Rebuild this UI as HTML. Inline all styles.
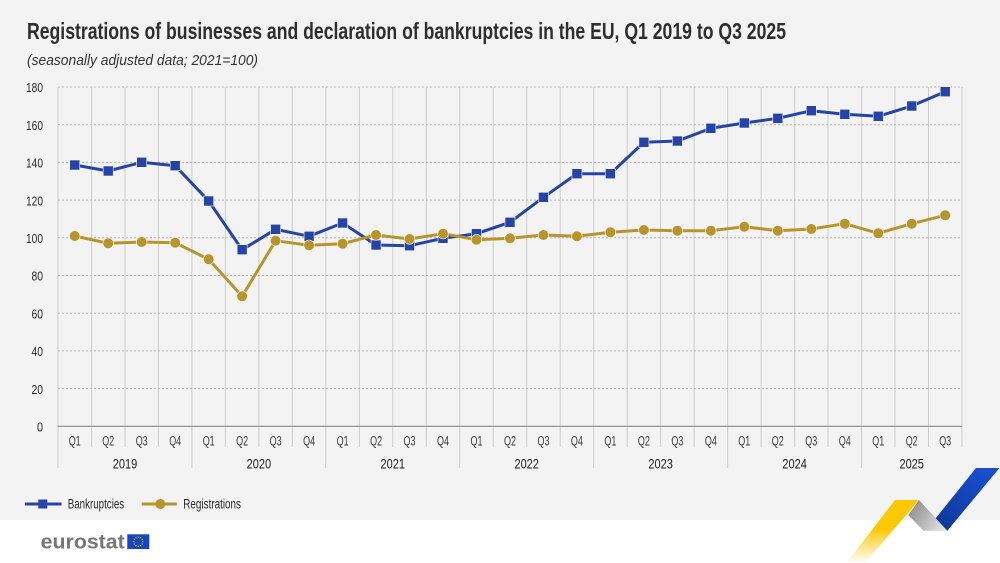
<!DOCTYPE html>
<html>
<head>
<meta charset="utf-8">
<style>
html,body{margin:0;padding:0;background:#fff;}
svg{display:block;}
text{font-family:"Liberation Sans Narrow","Liberation Sans",sans-serif;}
</style>
</head>
<body>
<svg width="1000" height="563" viewBox="0 0 1000 563" xmlns="http://www.w3.org/2000/svg">
<defs>
  <linearGradient id="gy" x1="0" y1="500" x2="0" y2="563" gradientUnits="userSpaceOnUse">
    <stop offset="0" stop-color="#fcc800"/>
    <stop offset="0.45" stop-color="#fcc800"/>
    <stop offset="1" stop-color="#fcc800" stop-opacity="0"/>
  </linearGradient>
  <linearGradient id="gg" x1="910" y1="505" x2="945" y2="531" gradientUnits="userSpaceOnUse">
    <stop offset="0" stop-color="#8c8c8c"/>
    <stop offset="1" stop-color="#e6e6e6"/>
  </linearGradient>
  <linearGradient id="gb" x1="990" y1="468" x2="940" y2="528" gradientUnits="userSpaceOnUse">
    <stop offset="0" stop-color="#1a4fd2"/>
    <stop offset="1" stop-color="#0e3899"/>
  </linearGradient>
</defs>

<rect x="0" y="0" width="1000" height="520" fill="#f3f3f3"/>
<rect x="0" y="520" width="1000" height="43" fill="#ffffff"/>

<!-- Title -->
<text x="27" y="39" font-size="23" font-weight="bold" fill="#2e2e2e" textLength="759" lengthAdjust="spacingAndGlyphs">Registrations of businesses and declaration of bankruptcies in the EU, Q1 2019 to Q3 2025</text>
<text x="27" y="65" font-size="14.5" font-style="italic" fill="#333" textLength="231" lengthAdjust="spacingAndGlyphs">(seasonally adjusted data; 2021=100)</text>

<!-- vertical gridlines -->
<g stroke="#cdcdcd" stroke-width="1">
  <line x1="58" y1="87" x2="58" y2="426"/>
  <line x1="91.5" y1="87" x2="91.5" y2="447"/>
  <line x1="125" y1="87" x2="125" y2="447"/>
  <line x1="158.4" y1="87" x2="158.4" y2="447"/>
  <line x1="191.9" y1="87" x2="191.9" y2="426"/>
  <line x1="225.4" y1="87" x2="225.4" y2="447"/>
  <line x1="258.9" y1="87" x2="258.9" y2="447"/>
  <line x1="292.4" y1="87" x2="292.4" y2="447"/>
  <line x1="325.8" y1="87" x2="325.8" y2="426"/>
  <line x1="359.3" y1="87" x2="359.3" y2="447"/>
  <line x1="392.8" y1="87" x2="392.8" y2="447"/>
  <line x1="426.3" y1="87" x2="426.3" y2="447"/>
  <line x1="459.8" y1="87" x2="459.8" y2="426"/>
  <line x1="493.2" y1="87" x2="493.2" y2="447"/>
  <line x1="526.7" y1="87" x2="526.7" y2="447"/>
  <line x1="560.2" y1="87" x2="560.2" y2="447"/>
  <line x1="593.7" y1="87" x2="593.7" y2="426"/>
  <line x1="627.2" y1="87" x2="627.2" y2="447"/>
  <line x1="660.6" y1="87" x2="660.6" y2="447"/>
  <line x1="694.1" y1="87" x2="694.1" y2="447"/>
  <line x1="727.6" y1="87" x2="727.6" y2="426"/>
  <line x1="761.1" y1="87" x2="761.1" y2="447"/>
  <line x1="794.6" y1="87" x2="794.6" y2="447"/>
  <line x1="828" y1="87" x2="828" y2="447"/>
  <line x1="861.5" y1="87" x2="861.5" y2="426"/>
  <line x1="895" y1="87" x2="895" y2="447"/>
  <line x1="928.5" y1="87" x2="928.5" y2="447"/>
  <line x1="962" y1="87" x2="962" y2="447"/>
</g>
<!-- year separators below axis -->
<g stroke="#cdcdcd" stroke-width="1">
  <line x1="58" y1="426" x2="58" y2="468"/>
  <line x1="191.9" y1="426" x2="191.9" y2="468"/>
  <line x1="325.8" y1="426" x2="325.8" y2="468"/>
  <line x1="459.8" y1="426" x2="459.8" y2="468"/>
  <line x1="593.7" y1="426" x2="593.7" y2="468"/>
  <line x1="727.6" y1="426" x2="727.6" y2="468"/>
  <line x1="861.5" y1="426" x2="861.5" y2="468"/>
</g>

<!-- horizontal dotted gridlines -->
<g stroke="#b4b4b4" stroke-width="1" stroke-dasharray="2,2">
  <line x1="58" y1="388.6" x2="962" y2="388.6"/>
  <line x1="58" y1="350.9" x2="962" y2="350.9"/>
  <line x1="58" y1="313.2" x2="962" y2="313.2"/>
  <line x1="58" y1="275.5" x2="962" y2="275.5"/>
  <line x1="58" y1="237.8" x2="962" y2="237.8"/>
  <line x1="58" y1="200.1" x2="962" y2="200.1"/>
  <line x1="58" y1="162.4" x2="962" y2="162.4"/>
  <line x1="58" y1="124.7" x2="962" y2="124.7"/>
  <line x1="58" y1="87" x2="962" y2="87"/>
</g>
<line x1="58" y1="426.3" x2="962" y2="426.3" stroke="#8a8a8a" stroke-width="1.2"/>

<!-- y labels -->
<g font-size="13" fill="#2a2a2a" text-anchor="end">
  <text x="43" y="431.5" textLength="6" lengthAdjust="spacingAndGlyphs">0</text>
  <text x="43" y="393.8" textLength="11.5" lengthAdjust="spacingAndGlyphs">20</text>
  <text x="43" y="356.1" textLength="11.5" lengthAdjust="spacingAndGlyphs">40</text>
  <text x="43" y="318.4" textLength="11.5" lengthAdjust="spacingAndGlyphs">60</text>
  <text x="43" y="280.7" textLength="11.5" lengthAdjust="spacingAndGlyphs">80</text>
  <text x="43" y="243" textLength="17" lengthAdjust="spacingAndGlyphs">100</text>
  <text x="43" y="205.3" textLength="17" lengthAdjust="spacingAndGlyphs">120</text>
  <text x="43" y="167.6" textLength="17" lengthAdjust="spacingAndGlyphs">140</text>
  <text x="43" y="129.9" textLength="17" lengthAdjust="spacingAndGlyphs">160</text>
  <text x="43" y="92.2" textLength="17" lengthAdjust="spacingAndGlyphs">180</text>
</g>

<!-- quarter labels -->
<g font-size="13.5" fill="#3a3a3a" text-anchor="middle">
  <text x="74.7" y="445.5" textLength="12" lengthAdjust="spacingAndGlyphs">Q1</text>
  <text x="108.2" y="445.5" textLength="12" lengthAdjust="spacingAndGlyphs">Q2</text>
  <text x="141.7" y="445.5" textLength="12" lengthAdjust="spacingAndGlyphs">Q3</text>
  <text x="175.2" y="445.5" textLength="12" lengthAdjust="spacingAndGlyphs">Q4</text>
  <text x="208.7" y="445.5" textLength="12" lengthAdjust="spacingAndGlyphs">Q1</text>
  <text x="242.1" y="445.5" textLength="12" lengthAdjust="spacingAndGlyphs">Q2</text>
  <text x="275.6" y="445.5" textLength="12" lengthAdjust="spacingAndGlyphs">Q3</text>
  <text x="309.1" y="445.5" textLength="12" lengthAdjust="spacingAndGlyphs">Q4</text>
  <text x="342.6" y="445.5" textLength="12" lengthAdjust="spacingAndGlyphs">Q1</text>
  <text x="376.1" y="445.5" textLength="12" lengthAdjust="spacingAndGlyphs">Q2</text>
  <text x="409.5" y="445.5" textLength="12" lengthAdjust="spacingAndGlyphs">Q3</text>
  <text x="443" y="445.5" textLength="12" lengthAdjust="spacingAndGlyphs">Q4</text>
  <text x="476.5" y="445.5" textLength="12" lengthAdjust="spacingAndGlyphs">Q1</text>
  <text x="510" y="445.5" textLength="12" lengthAdjust="spacingAndGlyphs">Q2</text>
  <text x="543.5" y="445.5" textLength="12" lengthAdjust="spacingAndGlyphs">Q3</text>
  <text x="576.9" y="445.5" textLength="12" lengthAdjust="spacingAndGlyphs">Q4</text>
  <text x="610.4" y="445.5" textLength="12" lengthAdjust="spacingAndGlyphs">Q1</text>
  <text x="643.9" y="445.5" textLength="12" lengthAdjust="spacingAndGlyphs">Q2</text>
  <text x="677.4" y="445.5" textLength="12" lengthAdjust="spacingAndGlyphs">Q3</text>
  <text x="710.9" y="445.5" textLength="12" lengthAdjust="spacingAndGlyphs">Q4</text>
  <text x="744.3" y="445.5" textLength="12" lengthAdjust="spacingAndGlyphs">Q1</text>
  <text x="777.8" y="445.5" textLength="12" lengthAdjust="spacingAndGlyphs">Q2</text>
  <text x="811.3" y="445.5" textLength="12" lengthAdjust="spacingAndGlyphs">Q3</text>
  <text x="844.8" y="445.5" textLength="12" lengthAdjust="spacingAndGlyphs">Q4</text>
  <text x="878.3" y="445.5" textLength="12" lengthAdjust="spacingAndGlyphs">Q1</text>
  <text x="911.7" y="445.5" textLength="12" lengthAdjust="spacingAndGlyphs">Q2</text>
  <text x="945.2" y="445.5" textLength="12" lengthAdjust="spacingAndGlyphs">Q3</text>
</g>
<!-- year labels -->
<g font-size="14" fill="#1e1e1e" text-anchor="middle">
  <text x="125" y="468.5" textLength="24.5" lengthAdjust="spacingAndGlyphs">2019</text>
  <text x="258.9" y="468.5" textLength="24.5" lengthAdjust="spacingAndGlyphs">2020</text>
  <text x="392.8" y="468.5" textLength="24.5" lengthAdjust="spacingAndGlyphs">2021</text>
  <text x="526.7" y="468.5" textLength="24.5" lengthAdjust="spacingAndGlyphs">2022</text>
  <text x="660.6" y="468.5" textLength="24.5" lengthAdjust="spacingAndGlyphs">2023</text>
  <text x="794.6" y="468.5" textLength="24.5" lengthAdjust="spacingAndGlyphs">2024</text>
  <text x="911.7" y="468.5" textLength="24.5" lengthAdjust="spacingAndGlyphs">2025</text>
</g>

<!-- Bankruptcies series -->
<polyline fill="none" stroke="#2644a7" stroke-width="3" stroke-linejoin="round"
  points="74.74,165 108.22,171 141.7,162.3 175.18,165.7 208.66,201 242.14,249.7 275.62,229.3 309.1,236.3 342.58,223 376.06,245 409.54,245.7 443.02,238.3 476.5,233.7 509.98,222.3 543.46,197.3 576.94,173.7 610.42,173.7 643.9,142.3 677.38,141 710.86,128.3 744.34,123 777.82,118.3 811.3,110.7 844.78,114.3 878.26,116.3 911.74,106 945.22,91.7"/>
<g fill="#2644a7" stroke="#f3f3f3" stroke-width="0.6">
  <rect x="69.74" y="160" width="10" height="10"/>
  <rect x="103.22" y="166" width="10" height="10"/>
  <rect x="136.7" y="157.3" width="10" height="10"/>
  <rect x="170.18" y="160.7" width="10" height="10"/>
  <rect x="203.66" y="196" width="10" height="10"/>
  <rect x="237.14" y="244.7" width="10" height="10"/>
  <rect x="270.62" y="224.3" width="10" height="10"/>
  <rect x="304.1" y="231.3" width="10" height="10"/>
  <rect x="337.58" y="218" width="10" height="10"/>
  <rect x="371.06" y="240" width="10" height="10"/>
  <rect x="404.54" y="240.7" width="10" height="10"/>
  <rect x="438.02" y="233.3" width="10" height="10"/>
  <rect x="471.5" y="228.7" width="10" height="10"/>
  <rect x="504.98" y="217.3" width="10" height="10"/>
  <rect x="538.46" y="192.3" width="10" height="10"/>
  <rect x="571.94" y="168.7" width="10" height="10"/>
  <rect x="605.42" y="168.7" width="10" height="10"/>
  <rect x="638.9" y="137.3" width="10" height="10"/>
  <rect x="672.38" y="136" width="10" height="10"/>
  <rect x="705.86" y="123.3" width="10" height="10"/>
  <rect x="739.34" y="118" width="10" height="10"/>
  <rect x="772.82" y="113.3" width="10" height="10"/>
  <rect x="806.3" y="105.7" width="10" height="10"/>
  <rect x="839.78" y="109.3" width="10" height="10"/>
  <rect x="873.26" y="111.3" width="10" height="10"/>
  <rect x="906.74" y="101" width="10" height="10"/>
  <rect x="940.22" y="86.7" width="10" height="10"/>
</g>

<!-- Registrations series -->
<polyline fill="none" stroke="#b8952a" stroke-width="3" stroke-linejoin="round"
  points="74.74,236 108.22,243.3 141.7,242 175.18,242.7 208.66,259.3 242.14,296.3 275.62,240.7 309.1,245.3 342.58,243.7 376.06,235 409.54,239 443.02,233.7 476.5,239.7 509.98,238.3 543.46,235 576.94,236.3 610.42,232.3 643.9,230 677.38,230.7 710.86,230.7 744.34,226.7 777.82,230.7 811.3,229 844.78,223.7 878.26,233.3 911.74,223.7 945.22,215.3"/>
<g fill="#b8952a" stroke="#f3f3f3" stroke-width="0.6">
  <circle cx="74.74" cy="236" r="5.3"/>
  <circle cx="108.22" cy="243.3" r="5.3"/>
  <circle cx="141.7" cy="242" r="5.3"/>
  <circle cx="175.18" cy="242.7" r="5.3"/>
  <circle cx="208.66" cy="259.3" r="5.3"/>
  <circle cx="242.14" cy="296.3" r="5.3"/>
  <circle cx="275.62" cy="240.7" r="5.3"/>
  <circle cx="309.1" cy="245.3" r="5.3"/>
  <circle cx="342.58" cy="243.7" r="5.3"/>
  <circle cx="376.06" cy="235" r="5.3"/>
  <circle cx="409.54" cy="239" r="5.3"/>
  <circle cx="443.02" cy="233.7" r="5.3"/>
  <circle cx="476.5" cy="239.7" r="5.3"/>
  <circle cx="509.98" cy="238.3" r="5.3"/>
  <circle cx="543.46" cy="235" r="5.3"/>
  <circle cx="576.94" cy="236.3" r="5.3"/>
  <circle cx="610.42" cy="232.3" r="5.3"/>
  <circle cx="643.9" cy="230" r="5.3"/>
  <circle cx="677.38" cy="230.7" r="5.3"/>
  <circle cx="710.86" cy="230.7" r="5.3"/>
  <circle cx="744.34" cy="226.7" r="5.3"/>
  <circle cx="777.82" cy="230.7" r="5.3"/>
  <circle cx="811.3" cy="229" r="5.3"/>
  <circle cx="844.78" cy="223.7" r="5.3"/>
  <circle cx="878.26" cy="233.3" r="5.3"/>
  <circle cx="911.74" cy="223.7" r="5.3"/>
  <circle cx="945.22" cy="215.3" r="5.3"/>
</g>

<!-- Legend -->
<line x1="25" y1="504" x2="61.5" y2="504" stroke="#2644a7" stroke-width="3"/>
<rect x="38.3" y="499.5" width="9" height="9" fill="#2644a7"/>
<text x="67.7" y="508.5" font-size="13.5" fill="#2a2a2a" textLength="56.5" lengthAdjust="spacingAndGlyphs">Bankruptcies</text>
<line x1="141.7" y1="504" x2="176.7" y2="504" stroke="#b8952a" stroke-width="3"/>
<circle cx="160.3" cy="504" r="5" fill="#b8952a"/>
<text x="183.3" y="508.5" font-size="13.5" fill="#2a2a2a" textLength="57.7" lengthAdjust="spacingAndGlyphs">Registrations</text>

<!-- eurostat logo -->
<text x="40.7" y="548.3" font-family="Liberation Sans, sans-serif" font-size="20" font-weight="bold" fill="#777" textLength="84" lengthAdjust="spacingAndGlyphs">eurostat</text>
<rect x="127.3" y="534.3" width="22" height="14.7" fill="#1446c4"/>
<g fill="#ffdd00">
  <circle cx="138.3" cy="537.2" r="0.6"/>
  <circle cx="140.55" cy="537.8" r="0.6"/>
  <circle cx="142.2" cy="539.45" r="0.6"/>
  <circle cx="142.8" cy="541.7" r="0.6"/>
  <circle cx="142.2" cy="543.95" r="0.6"/>
  <circle cx="140.55" cy="545.6" r="0.6"/>
  <circle cx="138.3" cy="546.2" r="0.6"/>
  <circle cx="136.05" cy="545.6" r="0.6"/>
  <circle cx="134.4" cy="543.95" r="0.6"/>
  <circle cx="133.8" cy="541.7" r="0.6"/>
  <circle cx="134.4" cy="539.45" r="0.6"/>
  <circle cx="136.05" cy="537.8" r="0.6"/>
</g>

<!-- decorative ribbons -->
<polygon points="895,500 919,500 865,563 846.7,563" fill="url(#gy)"/>
<polygon points="919,500 908.3,515 923.3,530.7 947.3,530.7" fill="url(#gg)"/>
<polygon points="976,468 999.5,468 947.3,530.7 935.7,518.3" fill="url(#gb)"/>
</svg>
</body>
</html>
